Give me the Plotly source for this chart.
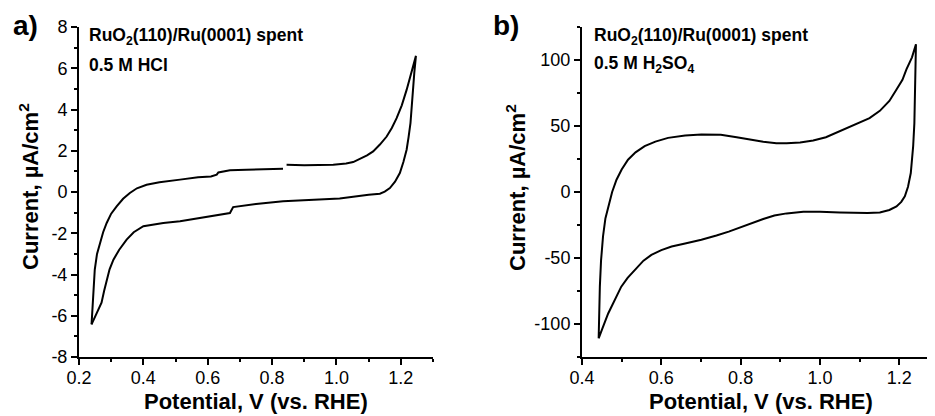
import plotly.graph_objects as go

# ---------------- Panel a: 0.5 M HCl ----------------
a_x = [0.239, 0.245, 0.249, 0.256, 0.265, 0.275, 0.286, 0.300, 0.317, 0.337, 0.358, 0.38, 0.41, 0.45,
       0.514, 0.57, 0.61, 0.628, 0.633, 0.669, 0.72, 0.78, 0.834, None,
       0.845, 0.9, 0.99, 1.03, 1.052, 1.073, 1.095, 1.114, 1.135, 1.156, 1.172, 1.187, 1.203, 1.218, 1.233, 1.247,
       1.242, 1.238, 1.234, 1.23, 1.224, 1.218, 1.208, 1.197, 1.182, 1.166, 1.150, 1.135, 1.10, 1.073,
       1.04, 1.01, 0.93, 0.834, 0.75, 0.679, 0.669, 0.628, 0.576, 0.514, 0.462, 0.4, 0.37, 0.348, 0.325,
       0.307, 0.295, 0.286, 0.278, 0.27, 0.255, 0.239]
a_y = [-6.42, -5.0, -3.76, -3.0, -2.47, -1.95, -1.5, -1.05, -0.7, -0.33, -0.05, 0.18, 0.35, 0.47,
       0.6, 0.72, 0.75, 0.84, 0.95, 1.05, 1.08, 1.12, 1.13, None,
       1.32, 1.3, 1.32, 1.38, 1.45, 1.6, 1.78, 1.97, 2.3, 2.69, 3.1, 3.58, 4.2, 4.95, 5.8, 6.6,
       5.8, 4.95, 4.1, 3.34, 2.65, 2.05, 1.45, 0.92, 0.5, 0.19, 0.02, -0.08, -0.13, -0.18,
       -0.26, -0.32, -0.38, -0.45, -0.58, -0.73, -1.02, -1.12, -1.26, -1.42, -1.5, -1.66, -1.95, -2.31, -2.8,
       -3.28, -3.75, -4.24, -4.8, -5.37, -5.85, -6.42]

# ---------------- Panel b: 0.5 M H2SO4 ----------------
b_x = [0.442, 0.443, 0.445, 0.448, 0.453, 0.459, 0.466, 0.476, 0.487, 0.50, 0.516, 0.535, 0.558, 0.585,
       0.617, 0.66, 0.701, 0.75, 0.79, 0.825, 0.857, 0.89, 0.916, 0.95, 0.983, 1.015, 1.042, 1.07, 1.1,
       1.125, 1.151, 1.175, 1.193, 1.208, 1.218, 1.232, 1.242,
       1.241, 1.24, 1.238, 1.235, 1.232, 1.229, 1.222, 1.214, 1.205, 1.193, 1.175, 1.151, 1.12, 1.092,
       1.05, 1.0, 0.958, 0.916, 0.885, 0.857, 0.83, 0.798, 0.77, 0.739, 0.701, 0.66, 0.626, 0.60, 0.575,
       0.555, 0.533, 0.515, 0.499, 0.482, 0.466, 0.452, 0.442]
b_y = [-110.9, -95, -71.7, -52, -33.7, -20, -10.9, 0, 9.3, 17, 24.5, 30, 34.7, 38.2,
       41, 42.8, 43.5, 43.3, 41.5, 39.5, 38, 37, 36.9, 37.5, 39, 41.5, 45, 48.3, 52.2,
       56, 61.5, 69, 77.7, 85, 92.9, 102, 111.9,
       90, 72.6, 52, 34.7, 24, 14.4, 4, -3.3, -7.5, -10.9, -13.6, -15.5, -16, -16,
       -15.5, -15, -15, -16.2, -17.8, -20.5, -23.5, -26.9, -30, -33, -36.2, -39, -41.3, -44, -47.6,
       -52, -59, -65, -71.7, -82, -92, -103, -110.9]

# ---------------- Tick labels ----------------
a_xticks = [0.2, 0.4, 0.6, 0.8, 1.0, 1.2]
a_xtext = ["0.2", "0.4", "0.6", "0.8", "1.0", "1.2"]
a_yticks = [-8, -6, -4, -2, 0, 2, 4, 6, 8]
a_ytext = ["-8", "-6", "-4", "-2", "0", "2", "4", "6", "8"]
b_xticks = [0.4, 0.6, 0.8, 1.0, 1.2]
b_xtext = ["0.4", "0.6", "0.8", "1.0", "1.2"]
b_yticks = [-100, -50, 0, 50, 100]
b_ytext = ["-100", "-50", "0", "50", "100"]

# The page body adds an 8 px offset; lay out in window pixels and compensate.
OFF = 8
W, H = 935 - OFF, 416 - OFF
FONT = "Liberation Sans, Arial, sans-serif"

fig = go.Figure()
fig.add_trace(go.Scatter(x=a_x, y=a_y, mode="lines", line=dict(color="black", width=2),
                         xaxis="x", yaxis="y", showlegend=False, connectgaps=False))
fig.add_trace(go.Scatter(x=b_x, y=b_y, mode="lines", line=dict(color="black", width=2),
                         xaxis="x2", yaxis="y2", showlegend=False))

def px(v):
    return (v - OFF) / W

def py(v):
    return 1 - (v - OFF) / H

ax_common = dict(showline=True, linecolor="black", linewidth=2, showgrid=False, zeroline=False,
                 ticks="outside", ticklen=6, tickwidth=2, tickcolor="black", automargin=False,
                 tickfont=dict(family=FONT, size=18, color="black"), mirror=False)

y_dom = [py(357), py(27)]

fig.update_layout(
    width=W, height=H, autosize=False,
    margin=dict(l=0, r=0, t=0, b=0, pad=0, autoexpand=False),
    paper_bgcolor="white", plot_bgcolor="white",
    showlegend=False,
    xaxis=dict(domain=[px(79), px(433)], range=[0.2, 1.3], tickvals=a_xticks, ticktext=a_xtext,
               ticklabelstandoff=-3,
               minor=dict(ticks="outside", ticklen=3, tickwidth=1.5, tickcolor="black", dtick=0.1, tick0=0.2),
               anchor="y", **ax_common),
    yaxis=dict(domain=y_dom, range=[-8, 8], tickvals=a_yticks, ticktext=a_ytext,
               minor=dict(ticks="outside", ticklen=3, tickwidth=1.5, tickcolor="black", dtick=1, tick0=0),
               anchor="x", **ax_common),
    xaxis2=dict(domain=[px(582), px(933)], range=[0.4, 1.285], tickvals=b_xticks, ticktext=b_xtext,
                ticklabelstandoff=-3,
                minor=dict(ticks="outside", ticklen=3, tickwidth=1.5, tickcolor="black", dtick=0.1, tick0=0.4),
                anchor="y2", **ax_common),
    yaxis2=dict(domain=y_dom, range=[-125, 125], tickvals=b_yticks, ticktext=b_ytext,
                minor=dict(ticks="outside", ticklen=3, tickwidth=1.5, tickcolor="black", dtick=25, tick0=0),
                anchor="x2", **ax_common),
)

def ann(text, x, y, size, bold=True, xanchor="left", angle=0):
    t = f"<b>{text}</b>" if bold else text
    fig.add_annotation(text=t, x=px(x), y=py(y), xref="paper", yref="paper",
                       xanchor=xanchor, yanchor="middle", showarrow=False, textangle=angle,
                       font=dict(family=FONT, size=size, color="black"))

# panel letters
ann("a)", 25, 26, 28, xanchor="center")
ann("b)", 506, 26, 28, xanchor="center")
# in-plot labels
ann("RuO<sub>2</sub>(110)/Ru(0001) spent", 87, 37, 17.5)
ann("0.5 M HCl", 87, 65, 17.5)
ann("RuO<sub>2</sub>(110)/Ru(0001) spent", 592, 37, 17.5)
ann("0.5 M H<sub>2</sub>SO<sub>4</sub>", 592, 65, 17.5)
# axis titles
ann("Potential, V (vs. RHE)", 256, 401, 22, xanchor="center")
ann("Potential, V (vs. RHE)", 761, 401, 22, xanchor="center")
ann("Current, µA/cm<sup>2</sup>", 29, 187, 22, xanchor="center", angle=-90)
ann("Current, µA/cm<sup>2</sup>", 516, 187, 22, xanchor="center", angle=-90)

fig.write_html("out.html")
